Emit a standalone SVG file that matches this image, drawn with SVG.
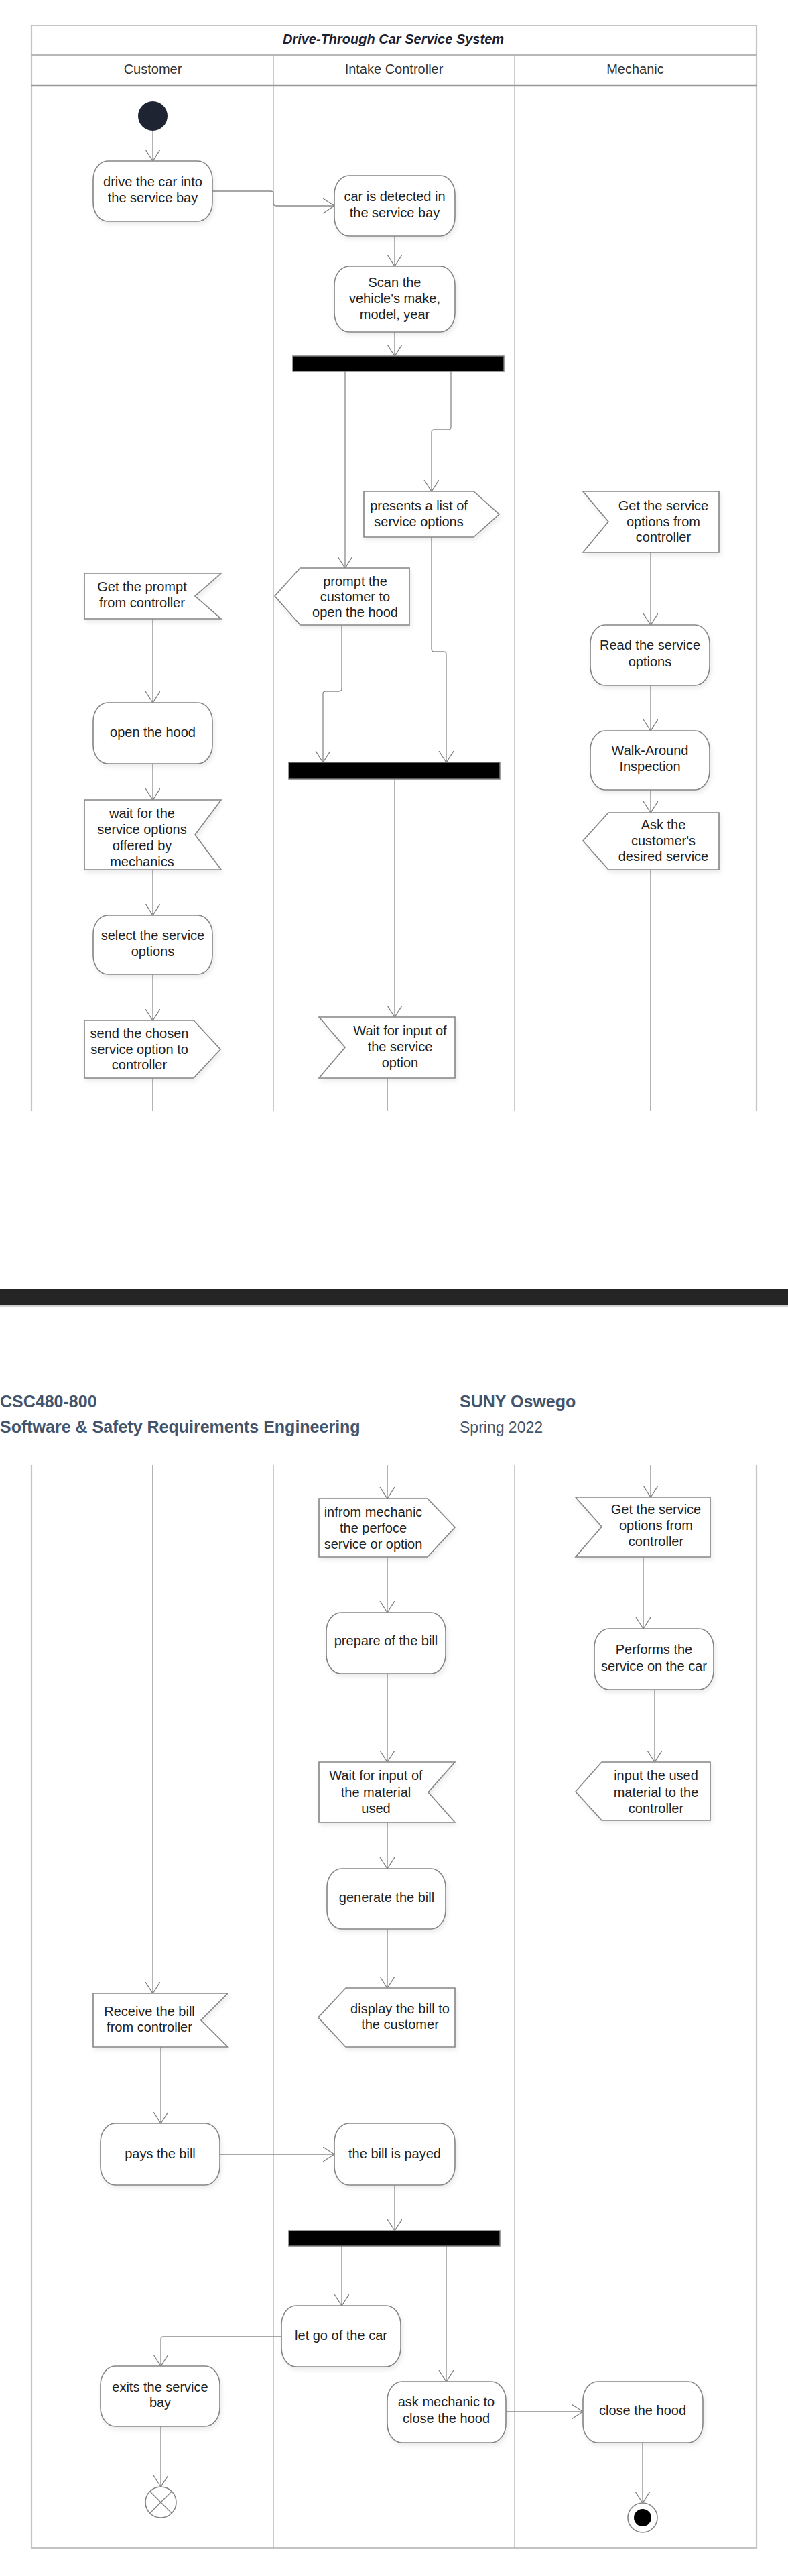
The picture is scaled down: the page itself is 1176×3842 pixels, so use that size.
<svg xmlns="http://www.w3.org/2000/svg" width="1176" height="3842" viewBox="0 0 1176 3842">
<style>
.t{font-family:"Liberation Sans",Arial,sans-serif;font-size:20px;fill:#222;text-anchor:middle}
.hd{font-family:"Liberation Sans",Arial,sans-serif;font-size:20px;fill:#333;text-anchor:middle}
.ttl{font-family:"Liberation Sans",Arial,sans-serif;font-size:20px;font-weight:bold;font-style:italic;fill:#1c2030;text-anchor:middle}
.pg{font-family:"Liberation Sans",Arial,sans-serif;fill:#44546a}
.act{fill:#fff;stroke:#858585;stroke-width:1.6;filter:url(#sh)}
.lane{stroke:#a8a8a8;stroke-width:1.2;fill:none}
.frame{stroke:#c4c4c4;stroke-width:2.2;fill:none}
.bar{fill:#000;stroke:#7a7a7a;stroke-width:1.5}
.c{fill:none;stroke:#8a8a8a;stroke-width:1.3}
.ca{fill:none;stroke:#8a8a8a;stroke-width:1.3;marker-end:url(#ah)}
</style>
<defs>
<marker id="ah" markerWidth="20" markerHeight="24" refX="17" refY="11" orient="auto" markerUnits="userSpaceOnUse">
<path d="M0,0 L17,11 L0,22" fill="none" stroke="#808080" stroke-width="1.3"/>
</marker>
<filter id="sh" x="-10%" y="-10%" width="130%" height="140%">
<feDropShadow dx="2" dy="4" stdDeviation="3" flood-color="#000" flood-opacity="0.08"/>
</filter>
</defs>
<rect width="1176" height="3842" fill="#fff"/>

<!-- page 1 frame and lanes -->
<g id="frame1">
<path class="frame" d="M47,1657 V38 H1129 V1657"/>
<line x1="47" y1="82" x2="1129" y2="82" stroke="#b8b8b8" stroke-width="2"/>
<line x1="47" y1="128" x2="1129" y2="128" stroke="#999" stroke-width="2.5"/>
<line class="lane" x1="408" y1="82" x2="408" y2="1657"/>
<line class="lane" x1="768" y1="82" x2="768" y2="1657"/>
<text class="ttl" x="587" y="65">Drive-Through Car Service System</text>
<text class="hd" x="228" y="110">Customer</text>
<text class="hd" x="588" y="110">Intake Controller</text>
<text class="hd" x="948" y="110">Mechanic</text>
</g>

<!-- page break -->
<rect x="0" y="1923" width="1176" height="23" fill="#252525"/>
<rect x="0" y="1946" width="1176" height="4" fill="#d0d0d0"/>

<g id="pagehead">
<text class="pg" x="0" y="2099" font-size="25" font-weight="bold">CSC480-800</text>
<text class="pg" x="0" y="2137" font-size="25" font-weight="bold">Software &amp; Safety Requirements Engineering</text>
<text class="pg" x="686" y="2099" font-size="25" font-weight="bold">SUNY Oswego</text>
<text class="pg" x="686" y="2137" font-size="23">Spring 2022</text>
</g>

<g id="frame2">
<path class="frame" d="M47,2185 V3800 H1129 V2185"/>
<line class="lane" x1="408" y1="2185" x2="408" y2="3800"/>
<line class="lane" x1="768" y1="2185" x2="768" y2="3800"/>
</g>

<!-- connectors -->
<g id="connectors">
<path class="ca" d="M228,195 V240"/>
<path class="ca" d="M317,285 H404 Q408,285 408,289 V303 Q408,307 412,307 H499"/>
<path class="ca" d="M589,352 V397"/>
<path class="ca" d="M589,495 V531"/>
<path class="ca" d="M515,554 V847"/>
<path class="ca" d="M673,554 V637 Q673,641 669,641 H648 Q644,641 644,645 V733"/>
<path class="ca" d="M228,923 V1048"/>
<path class="ca" d="M228,1139 V1193"/>
<path class="ca" d="M228,1297 V1365"/>
<path class="ca" d="M228,1453 V1522"/>
<path class="c" d="M228,1608 V1657"/>
<path class="ca" d="M510,932 V1027 Q510,1031 506,1031 H486 Q482,1031 482,1035 V1137"/>
<path class="ca" d="M644,801 V968 Q644,972 648,972 H662 Q666,972 666,976 V1137"/>
<path class="ca" d="M589,1162 V1517"/>
<path class="c" d="M578,1608 V1657"/>
<path class="ca" d="M971,824 V932"/>
<path class="ca" d="M971,1022 V1090"/>
<path class="ca" d="M971,1178 V1212"/>
<path class="c" d="M971,1297 V1657"/>

<path class="ca" d="M228,2185 V2973"/>
<path class="ca" d="M578,2185 V2235"/>
<path class="ca" d="M578,2322 V2405"/>
<path class="ca" d="M578,2496 V2628"/>
<path class="ca" d="M578,2718 V2787"/>
<path class="ca" d="M578,2877 V2965"/>
<path class="ca" d="M971,2185 V2233"/>
<path class="ca" d="M960,2322 V2429"/>
<path class="ca" d="M977,2520 V2628"/>
<path class="ca" d="M240,3053 V3167"/>
<path class="ca" d="M328,3213 H499"/>
<path class="ca" d="M589,3259 V3327"/>
<path class="ca" d="M510,3350 V3439"/>
<path class="ca" d="M666,3350 V3552"/>
<path class="ca" d="M420,3485 H244 Q240,3485 240,3489 V3529"/>
<path class="ca" d="M240,3619 V3709"/>
<path class="ca" d="M755,3597 H870"/>
<path class="ca" d="M959,3643 V3733"/>
</g>

<!-- nodes page 1 -->
<g id="start"><circle cx="228" cy="173" r="22" fill="#1f2433"/></g>

<g id="n-drive">
<rect class="act" x="139" y="240" width="178" height="90" rx="22" ry="28"/>
<text class="t" x="228" y="278">drive the car into</text>
<text class="t" x="228" y="302">the service bay</text>
</g>

<g id="n-detected">
<rect class="act" x="499" y="262" width="180" height="90" rx="22" ry="28"/>
<text class="t" x="589" y="300">car is detected in</text>
<text class="t" x="589" y="324">the service bay</text>
</g>

<g id="n-scan">
<rect class="act" x="499" y="397" width="180" height="98" rx="22" ry="28"/>
<text class="t" x="589" y="428">Scan the</text>
<text class="t" x="589" y="452">vehicle's make,</text>
<text class="t" x="589" y="476">model, year</text>
</g>

<g id="fork1"><rect class="bar" x="437" y="531" width="315" height="23"/></g>

<g id="n-present">
<polygon class="act" points="543,733 707,733 745,767 707,801 543,801"/>
<text class="t" x="625" y="761">presents a list of</text>
<text class="t" x="625" y="785">service options</text>
</g>

<g id="n-prompt">
<polygon class="act" points="410,889 448,847 611,847 611,932 448,932"/>
<text class="t" x="530" y="874">prompt the</text>
<text class="t" x="530" y="897">customer to</text>
<text class="t" x="530" y="920">open the hood</text>
</g>

<g id="n-getprompt">
<polygon class="act" points="126,855 330,855 291,889 330,923 126,923"/>
<text class="t" x="212" y="882">Get the prompt</text>
<text class="t" x="212" y="906">from controller</text>
</g>

<g id="n-getopts1">
<polygon class="act" points="870,733 1073,733 1073,824 870,824 908,778"/>
<text class="t" x="990" y="761">Get the service</text>
<text class="t" x="990" y="785">options from</text>
<text class="t" x="990" y="808">controller</text>
</g>

<g id="n-read">
<rect class="act" x="881" y="932" width="178" height="90" rx="22" ry="28"/>
<text class="t" x="970" y="969">Read the service</text>
<text class="t" x="970" y="994">options</text>
</g>

<g id="n-walk">
<rect class="act" x="881" y="1090" width="178" height="88" rx="22" ry="28"/>
<text class="t" x="970" y="1126">Walk-Around</text>
<text class="t" x="970" y="1150">Inspection</text>
</g>

<g id="n-ask">
<polygon class="act" points="870,1254 908,1212 1073,1212 1073,1297 908,1297"/>
<text class="t" x="990" y="1237">Ask the</text>
<text class="t" x="990" y="1261">customer's</text>
<text class="t" x="990" y="1284">desired service</text>
</g>

<g id="n-open">
<rect class="act" x="139" y="1048" width="178" height="91" rx="22" ry="28"/>
<text class="t" x="228" y="1099">open the hood</text>
</g>

<g id="n-waitopts">
<polygon class="act" points="126,1193 330,1193 291,1245 330,1297 126,1297"/>
<text class="t" x="212" y="1220">wait for the</text>
<text class="t" x="212" y="1244">service options</text>
<text class="t" x="212" y="1268">offered by</text>
<text class="t" x="212" y="1292">mechanics</text>
</g>

<g id="n-select">
<rect class="act" x="139" y="1365" width="178" height="88" rx="22" ry="28"/>
<text class="t" x="228" y="1402">select the service</text>
<text class="t" x="228" y="1426">options</text>
</g>

<g id="n-send">
<polygon class="act" points="126,1522 289,1522 329,1565 289,1608 126,1608"/>
<text class="t" x="208" y="1548">send the chosen</text>
<text class="t" x="208" y="1572">service option to</text>
<text class="t" x="208" y="1595">controller</text>
</g>

<g id="join1"><rect class="bar" x="431" y="1137" width="315" height="25"/></g>

<g id="n-waitinput">
<polygon class="act" points="476,1517 679,1517 679,1608 476,1608 515,1562"/>
<text class="t" x="597" y="1544">Wait for input of</text>
<text class="t" x="597" y="1568">the service</text>
<text class="t" x="597" y="1592">option</text>
</g>

<!-- nodes page 2 -->
<g id="n-inform">
<polygon class="act" points="476,2235 638,2235 679,2278 638,2322 476,2322"/>
<text class="t" x="557" y="2262">infrom mechanic</text>
<text class="t" x="557" y="2286">the perfoce</text>
<text class="t" x="557" y="2310">service or option</text>
</g>

<g id="n-getopts2">
<polygon class="act" points="859,2233 1060,2233 1060,2322 859,2322 898,2277"/>
<text class="t" x="979" y="2258">Get the service</text>
<text class="t" x="979" y="2282">options from</text>
<text class="t" x="979" y="2306">controller</text>
</g>

<g id="n-prepare">
<rect class="act" x="487" y="2405" width="178" height="91" rx="22" ry="28"/>
<text class="t" x="576" y="2454">prepare of the bill</text>
</g>

<g id="n-perform">
<rect class="act" x="887" y="2429" width="178" height="91" rx="22" ry="28"/>
<text class="t" x="976" y="2467">Performs the</text>
<text class="t" x="976" y="2492">service on the car</text>
</g>

<g id="n-waitmat">
<polygon class="act" points="476,2628 679,2628 639,2673 679,2718 476,2718"/>
<text class="t" x="561" y="2655">Wait for input of</text>
<text class="t" x="561" y="2680">the material</text>
<text class="t" x="561" y="2704">used</text>
</g>

<g id="n-inputused">
<polygon class="act" points="859,2672 898,2628 1060,2628 1060,2715 898,2715"/>
<text class="t" x="979" y="2655">input the used</text>
<text class="t" x="979" y="2680">material to the</text>
<text class="t" x="979" y="2704">controller</text>
</g>

<g id="n-generate">
<rect class="act" x="488" y="2787" width="177" height="90" rx="22" ry="28"/>
<text class="t" x="577" y="2837">generate the bill</text>
</g>

<g id="n-display">
<polygon class="act" points="475,3009 516,2965 679,2965 679,3053 516,3053"/>
<text class="t" x="597" y="3003">display the bill to</text>
<text class="t" x="597" y="3026">the customer</text>
</g>

<g id="n-receive">
<polygon class="act" points="139,2973 340,2973 300,3013 340,3053 139,3053"/>
<text class="t" x="223" y="3007">Receive the bill</text>
<text class="t" x="223" y="3030">from controller</text>
</g>

<g id="n-pays">
<rect class="act" x="150" y="3167" width="178" height="92" rx="22" ry="28"/>
<text class="t" x="239" y="3219">pays the bill</text>
</g>

<g id="n-payed">
<rect class="act" x="499" y="3167" width="180" height="92" rx="22" ry="28"/>
<text class="t" x="589" y="3219">the bill is payed</text>
</g>

<g id="fork2"><rect class="bar" x="431" y="3327" width="315" height="23"/></g>

<g id="n-letgo">
<rect class="act" x="420" y="3439" width="178" height="91" rx="22" ry="28"/>
<text class="t" x="509" y="3490">let go of the car</text>
</g>

<g id="n-exits">
<rect class="act" x="150" y="3529" width="178" height="90" rx="22" ry="28"/>
<text class="t" x="239" y="3567">exits the service</text>
<text class="t" x="239" y="3590">bay</text>
</g>

<g id="n-askmech">
<rect class="act" x="578" y="3552" width="177" height="91" rx="22" ry="28"/>
<text class="t" x="666" y="3589">ask mechanic to</text>
<text class="t" x="666" y="3614">close the hood</text>
</g>

<g id="n-close">
<rect class="act" x="870" y="3552" width="179" height="91" rx="22" ry="28"/>
<text class="t" x="959" y="3602">close the hood</text>
</g>

<g id="flowfinal">
<circle cx="240" cy="3732" r="23" fill="#fff" stroke="#858585" stroke-width="1.6"/>
<path d="M224,3716 L256,3748 M256,3716 L224,3748" stroke="#858585" stroke-width="1.4"/>
</g>

<g id="final">
<circle cx="959" cy="3755" r="22" fill="#fff" stroke="#858585" stroke-width="1.6"/>
<circle cx="959" cy="3755" r="13" fill="#000"/>
</g>
</svg>
